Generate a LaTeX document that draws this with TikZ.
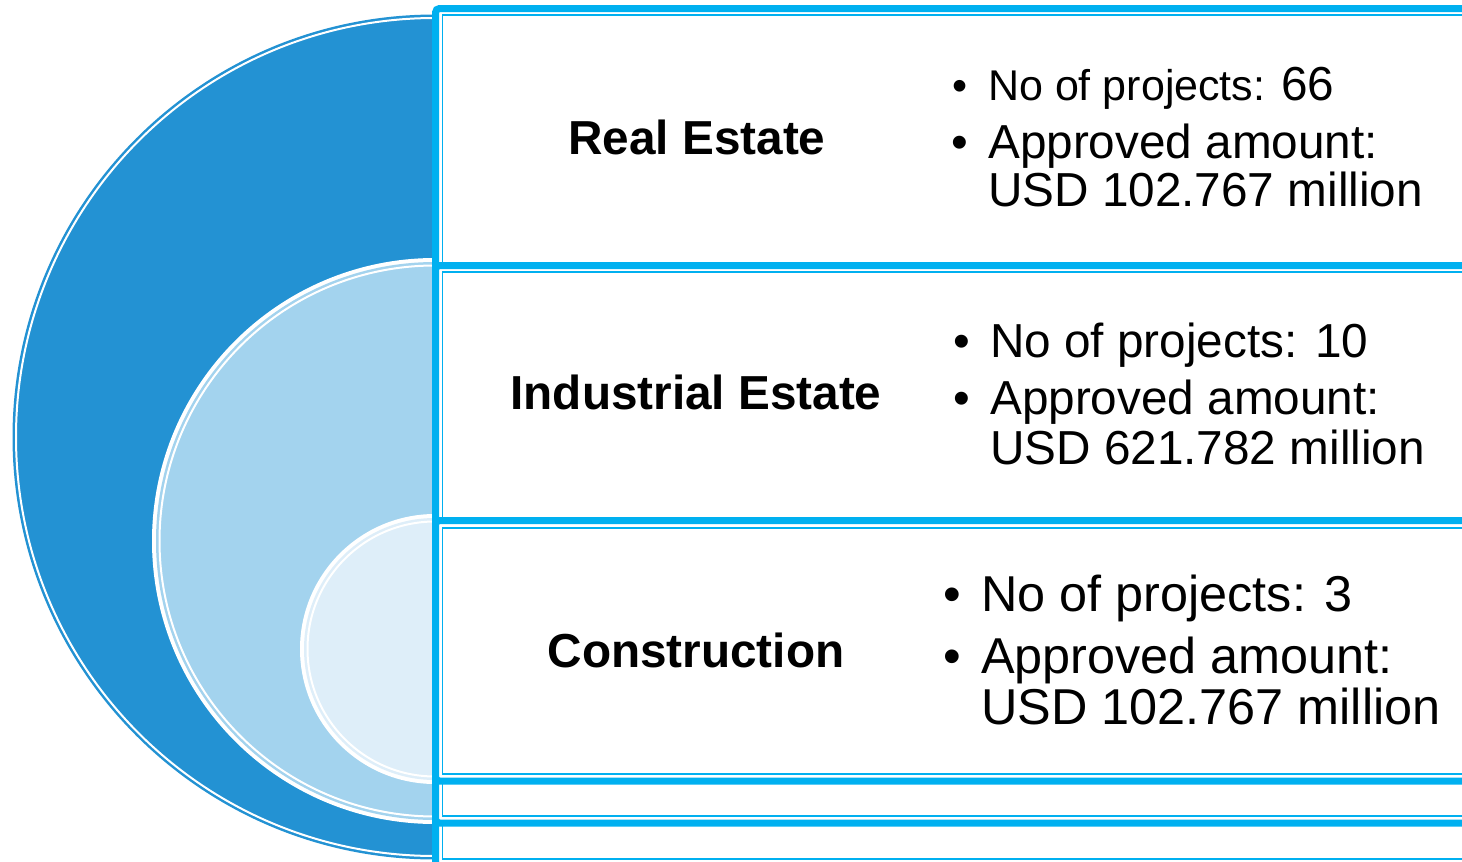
\documentclass[tikz,border=0pt]{standalone}
\usepackage{fontspec}
\setmainfont{Liberation Sans}
\usetikzlibrary{positioning}
\definecolor{ringdark}{HTML}{2392D3}
\definecolor{ringmid}{HTML}{A3D3EE}
\definecolor{ringlight}{HTML}{DEEEF9}
\definecolor{framecyan}{HTML}{00B0F0}
\tikzstyle{panel}=[draw=framecyan,fill=white,line width=7,rounded corners=4]
\tikzstyle{panel inner}=[draw=framecyan,line width=1.7]
\tikzstyle{sector}=[inner sep=0,font=\bfseries\fontsize{47.7}{48}\selectfont]
\tikzstyle{pointline}=[anchor=base west,inner sep=0,font=\fontsize{47.7}{48}\selectfont]
\tikzstyle{dotmark}=[anchor=base east,inner sep=0]

\begin{document}
\begin{tikzpicture}[x=1pt,y=-1pt]
  \message{Nested sectors with panels^^J}
  
  \useasboundingbox (0,0) rectangle (1462,862);
  \clip (0,0) rectangle (1462,862);
  \def\cx{435} % common centre line of the rings
  
  % RINGS
  \message{  Making rings...^^J}
  \foreach \cy/\rad/\col in {437/422.5/ringdark,541/279/ringmid,649/131/ringlight}{
    \fill[white] (\cx,\cy) circle[radius=\rad pt+4pt];
    \fill[\col]  (\cx,\cy) circle[radius=\rad pt];
    \draw[white,line width=2] (\cx,\cy) circle[radius=\rad pt-3.5pt];
  }
  
  % PANELS
  \message{  Making panels...^^J}
  \foreach \top/\itop/\bot/\ibot in {8.5/15.3/866/859,265.5/272/823/816,520.5/528/781/774}{
    \draw[panel] (\cx.5,\top) rectangle (1490,\bot);
    \draw[panel inner] (442.5,\itop) rectangle (1490,\ibot);
  }
  
  % TITLES
  \node[sector] (re) at (697,137) {Real Estate};
  \node[sector] (ie) at (696,392) {Industrial Estate};
  \node[sector] (co) at (696,650) {Construction};
  
  % FIGURES
  \node[pointline,font=\fontsize{43}{43}\selectfont] (re1) at (988,100)
    {No of projects: {\fontsize{47.7}{48}\selectfont 66}};
  \node[pointline] (re2) at (988,158) {Approved amount:};
  \node[pointline] (re3) at (988,206) {USD 102.767 million};
  
  \node[pointline] (ie1) at (990,357) {No of projects: 10};
  \node[pointline] (ie2) at (990,414) {Approved amount:};
  \node[pointline] (ie3) at (990,464) {USD 621.782 million};
  
  \node[pointline,font=\fontsize{50.4}{51}\selectfont] (co1) at (981,611) {No of projects: 3};
  \node[pointline,font=\fontsize{50.4}{51}\selectfont] (co2) at (981,673) {Approved amount:};
  \node[pointline,font=\fontsize{50.4}{51}\selectfont] (co3) at (981,724) {USD 102.767 million};
  
  % BULLETS
  \foreach \n/\fs in {re1/43,re2/47.7,ie1/47.7,ie2/47.7,co1/50.4,co2/50.4}{
    \node[dotmark,font=\fontsize{\fs}{\fs}\selectfont] (\n dot) at ([xshift=-20pt]\n.base west) {•};
  }
  
\end{tikzpicture}
\end{document}
